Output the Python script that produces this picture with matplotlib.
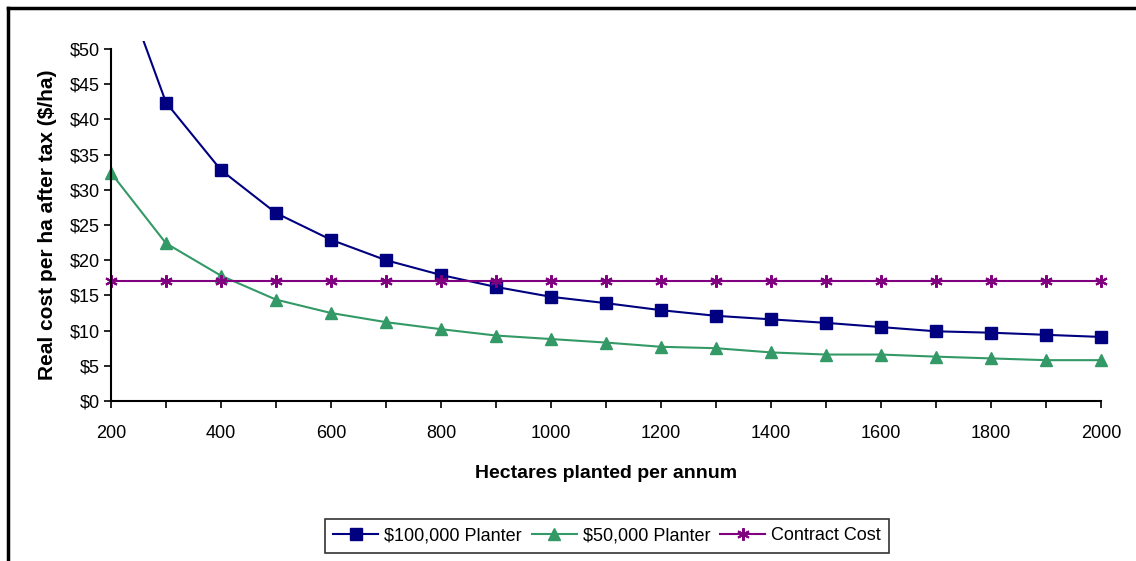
import numpy as np
import matplotlib.pyplot as plt
from matplotlib.lines import Line2D
from matplotlib.transforms import Bbox, TransformedBbox

plt.rcParams['font.family'] = ['Liberation Sans', 'DejaVu Sans']

hectares = [200, 300, 400, 500, 600, 700, 800, 900, 1000, 1100,
            1200, 1300, 1400, 1500, 1600, 1700, 1800, 1900, 2000]
planter_100k = [63.8, 42.4, 32.8, 26.7, 22.9, 20.0, 17.9, 16.2, 14.8, 13.9,
                12.9, 12.1, 11.6, 11.1, 10.5, 9.9, 9.7, 9.4, 9.1]
planter_50k = [32.4, 22.4, 17.8, 14.4, 12.5, 11.2, 10.2, 9.3, 8.8, 8.3,
               7.7, 7.5, 6.9, 6.6, 6.6, 6.3, 6.05, 5.8, 5.8]
contract = [17.0] * len(hectares)

fig = plt.figure(figsize=(11.36, 5.61), dpi=100)
ax = fig.add_axes([111 / 1136, 1 - 401 / 561, 990 / 1136, 352 / 561])

l1, = ax.plot(hectares, planter_100k, color='#000080', lw=1.5, marker='s',
              markersize=8.5, label='$100,000 Planter')
l2, = ax.plot(hectares, planter_50k, color='#339966', lw=1.5, marker='^',
              markersize=9, label='$50,000 Planter')
l3, = ax.plot(hectares, contract, color='#800080', lw=1.5, marker=(6, 2, 0),
              markersize=9, markeredgewidth=1.5, label='Contract Cost')

ax.set_xlim(200, 2000)
ax.set_ylim(0, 50)

# plot area in Excel is a little taller than the value axis
clip = TransformedBbox(Bbox([[150, -2], [2050, 51.2]]), ax.transData)
for ln in (l1, l2, l3):
    ln.set_clip_box(clip)

ax.set_xticks(np.arange(200, 2001, 100))
ax.set_xticklabels([str(v) if v % 200 == 0 else '' for v in range(200, 2001, 100)])
ax.set_yticks(np.arange(0, 51, 5))
ax.set_yticklabels(['$%d' % v for v in range(0, 51, 5)])
ax.tick_params(direction='out', length=5, width=1.2, labelsize=13, pad=3)
ax.tick_params(axis='x', pad=12)
for s in ['top', 'right']:
    ax.spines[s].set_visible(False)
for s in ['left', 'bottom']:
    ax.spines[s].set_linewidth(1.5)

ax.set_xlabel('Hectares planted per annum', fontsize=14, fontweight='bold', labelpad=17)
ax.set_ylabel('Real cost per ha after tax ($/ha)', fontsize=15, fontweight='bold', labelpad=9)

leg = ax.legend(loc='center', bbox_to_anchor=(607 / 1136, 1 - 536 / 561),
                bbox_transform=fig.transFigure, ncol=3, frameon=True,
                fancybox=False, edgecolor='black', fontsize=13,
                handlelength=2.5, columnspacing=0.55, handletextpad=0.33,
                borderpad=0.45, borderaxespad=0)
leg.get_frame().set_linewidth(1.2)

# outer chart border (top and left only visible)
fig.add_artist(Line2D([8 / 1136, 1], [1 - 8 / 561] * 2, color='black', lw=2.5,
                      transform=fig.transFigure))
fig.add_artist(Line2D([8 / 1136] * 2, [0, 1 - 8 / 561], color='black', lw=2.5,
                      transform=fig.transFigure))

fig.savefig('out.png', dpi=100)
